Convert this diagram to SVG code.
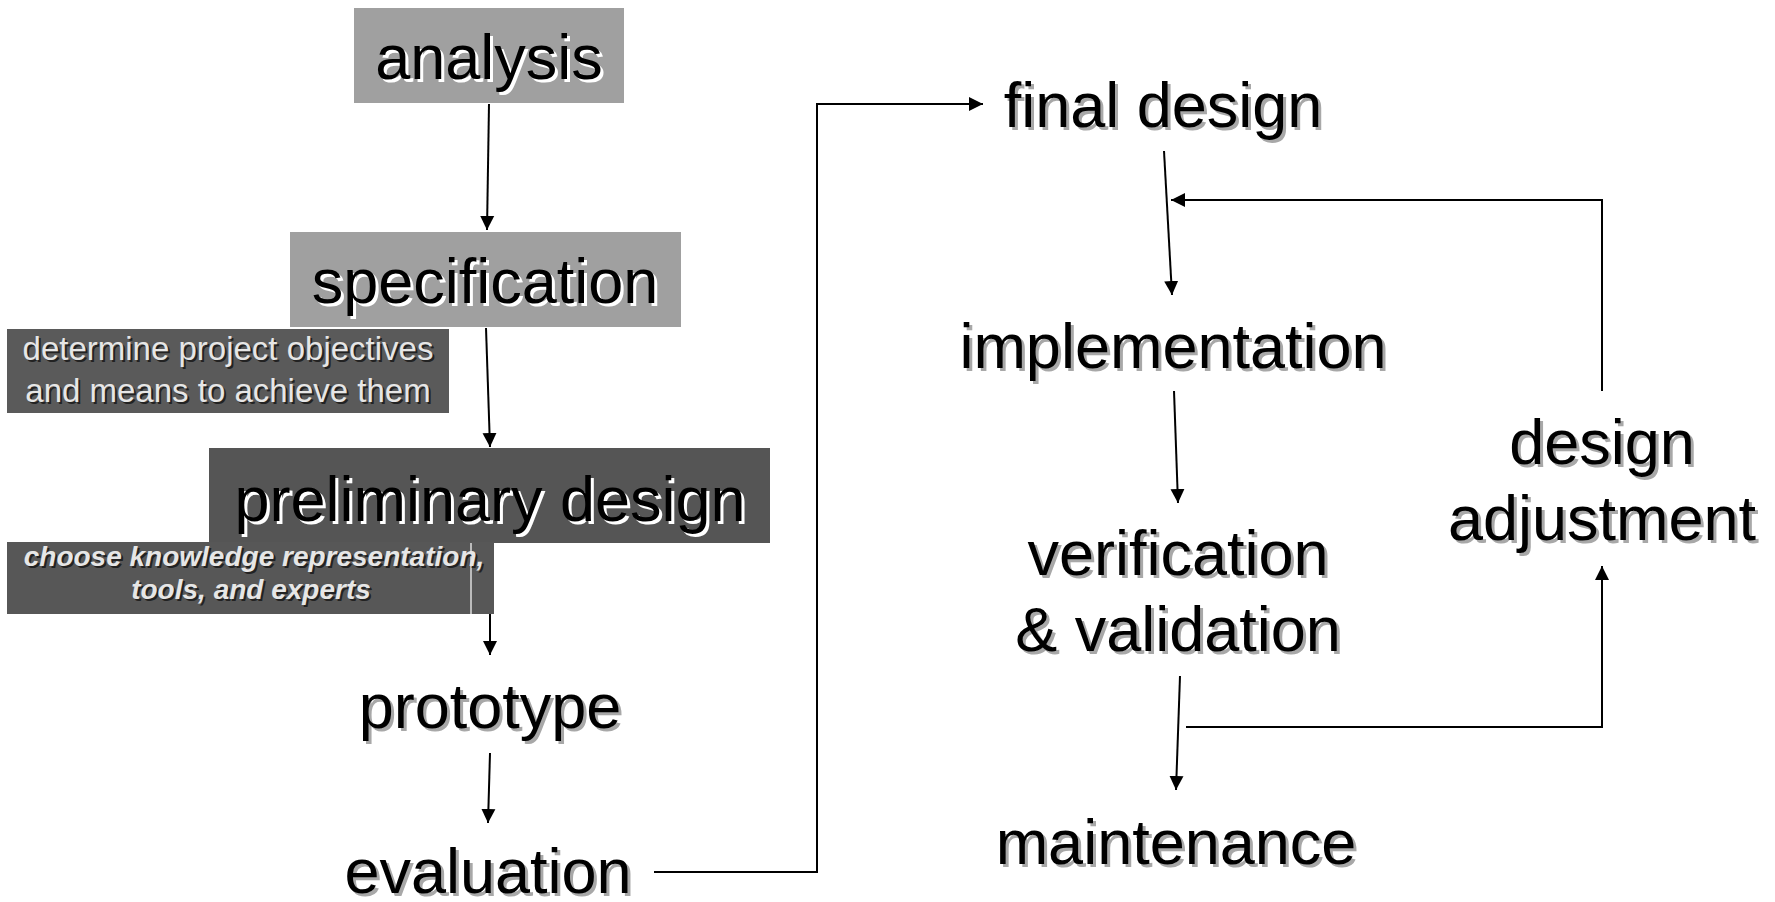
<svg xmlns="http://www.w3.org/2000/svg" width="1775" height="902" viewBox="0 0 1775 902">
<style>
.big{font-family:"Liberation Sans",Arial,sans-serif;font-size:63px;text-anchor:middle}
.fg{fill:#000}
.shw{fill:#fff}
.shg{fill:#a8a8a8}
.note{font-family:"Liberation Sans",Arial,sans-serif;font-size:33px;text-anchor:middle}
.note2{font-family:"Liberation Sans",Arial,sans-serif;font-size:28px;font-weight:bold;font-style:italic;text-anchor:middle}
.nfg{fill:#e6e6e6}
.nsh{fill:#222}
.conn{fill:none;stroke:#000;stroke-width:2}
</style>
<defs>
<marker id="ah" markerUnits="userSpaceOnUse" markerWidth="14" markerHeight="18" viewBox="0 0 14 18" refX="14" refY="9" orient="auto">
<path d="M0,2 L14,9 L0,16 Z" fill="#000"/>
</marker>
</defs>
<rect width="1775" height="902" fill="#fff"/>

<g id="connectors">
<line class="conn" x1="489" y1="104" x2="487" y2="230" marker-end="url(#ah)"/>
<line class="conn" x1="486" y1="328" x2="490" y2="447" marker-end="url(#ah)"/>
<line class="conn" x1="490" y1="614" x2="490" y2="655" marker-end="url(#ah)"/>
<line class="conn" x1="490" y1="753" x2="488" y2="823" marker-end="url(#ah)"/>
<polyline class="conn" points="654,872 817,872 817,104 983,104" marker-end="url(#ah)"/>
<line class="conn" x1="1164" y1="151" x2="1172" y2="295" marker-end="url(#ah)"/>
<polyline class="conn" points="1602,391 1602,200 1171,200" marker-end="url(#ah)"/>
<line class="conn" x1="1174" y1="391" x2="1178" y2="503" marker-end="url(#ah)"/>
<line class="conn" x1="1180" y1="676" x2="1176" y2="790" marker-end="url(#ah)"/>
<polyline class="conn" points="1186,727 1602,727 1602,566" marker-end="url(#ah)"/>
</g>

<g id="analysis">
<rect x="354" y="8" width="270" height="95" fill="#a0a0a0"/>
<text class="big shw" x="492" y="82">analysis</text>
<text class="big fg" x="489" y="79">analysis</text>
</g>

<g id="specification">
<rect x="290" y="232" width="391" height="95" fill="#a0a0a0"/>
<text class="big shw" x="488" y="306">specification</text>
<text class="big fg" x="485" y="303">specification</text>
</g>

<g id="determine-note">
<rect x="7" y="329" width="442" height="84" fill="#5a5a5a"/>
<text class="note nsh" x="230" y="362">determine project objectives</text>
<text class="note nfg" x="228" y="360">determine project objectives</text>
<text class="note nsh" x="230" y="404">and means to achieve them</text>
<text class="note nfg" x="228" y="402">and means to achieve them</text>
</g>

<g id="preliminary-design">
<rect x="209" y="448" width="561" height="95" fill="#555"/>
<text class="big shw" x="493" y="524">preliminary design</text>
<text class="big fg" x="490" y="521">preliminary design</text>
</g>

<g id="choose-note">
<rect x="7" y="542" width="487" height="72" fill="#575757"/>
<line x1="471" y1="543" x2="471" y2="614" stroke="#ddd" stroke-width="1.5"/>
<text class="note2 nsh" x="256" y="568">choose knowledge representation,</text>
<text class="note2 nfg" x="254" y="566">choose knowledge representation,</text>
<text class="note2 nsh" x="253" y="601">tools, and experts</text>
<text class="note2 nfg" x="251" y="599">tools, and experts</text>
</g>

<g id="prototype">
<text class="big shg" x="493" y="731">prototype</text>
<text class="big fg" x="490" y="728">prototype</text>
</g>

<g id="evaluation">
<text class="big shg" x="491" y="896">evaluation</text>
<text class="big fg" x="488" y="893">evaluation</text>
</g>

<g id="final-design">
<text class="big shg" x="1166" y="130">final design</text>
<text class="big fg" x="1163" y="127">final design</text>
</g>

<g id="implementation">
<text class="big shg" x="1176" y="371">implementation</text>
<text class="big fg" x="1173" y="368">implementation</text>
</g>

<g id="verification-validation">
<text class="big shg" x="1181" y="578">verification</text>
<text class="big fg" x="1178" y="575">verification</text>
<text class="big shg" x="1181" y="654">&amp; validation</text>
<text class="big fg" x="1178" y="651">&amp; validation</text>
</g>

<g id="maintenance">
<text class="big shg" x="1179" y="867">maintenance</text>
<text class="big fg" x="1176" y="864">maintenance</text>
</g>

<g id="design-adjustment">
<text class="big shg" x="1605" y="467">design</text>
<text class="big fg" x="1602" y="464">design</text>
<text class="big shg" x="1605" y="543">adjustment</text>
<text class="big fg" x="1602" y="540">adjustment</text>
</g>
</svg>
